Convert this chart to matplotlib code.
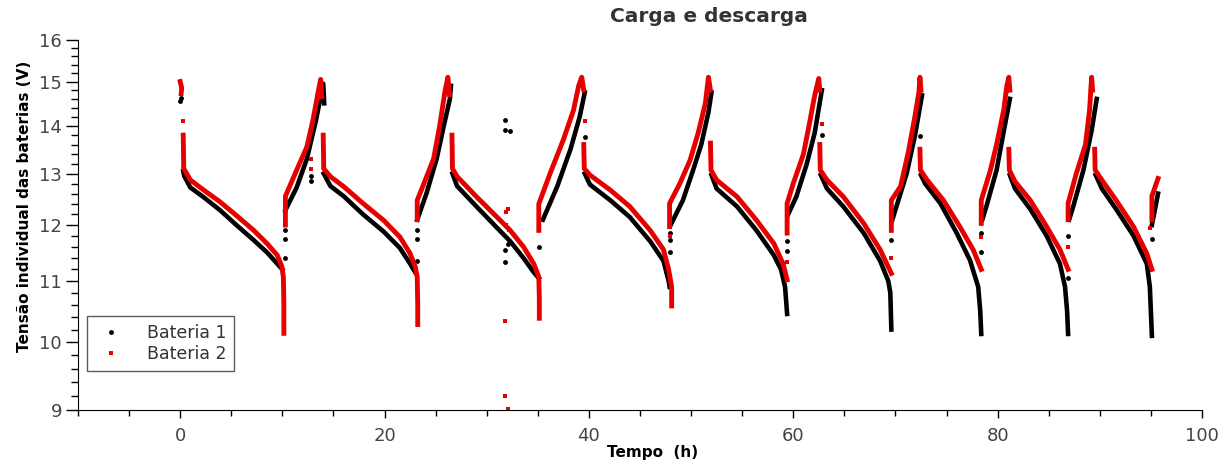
import matplotlib
matplotlib.use("Agg")
import matplotlib.pyplot as plt
from matplotlib.lines import Line2D
from matplotlib.ticker import FixedLocator, FixedFormatter, NullFormatter

nan = float("nan")

# Bateria 1 (preto): trechos de carga/descarga separados por nan
b1_tempo = [
    0.3, 0.4, 1.0, 2.3, 3.9, 5.5, 7.2, 8.5, 9.5, 10.0, nan,
    10.3, 11.4, 12.4, 13.3, 14.0, 14.1, nan,
    14.05, 14.7, 16.0, 17.9, 19.9, 21.5, 22.5, 23.0, nan,
    23.2, 24.1, 25.1, 25.8, 26.4, 26.5, nan,
    26.65, 27.1, 29.0, 31.0, 32.3, 33.6, 34.6, 35.1, nan,
    35.5, 36.9, 38.2, 39.1, 39.6, nan,
    39.6, 40.1, 42.1, 44.0, 46.0, 47.3, 47.8, 47.9, nan,
    48.0, 49.2, 50.2, 51.0, 51.7, 52.0, nan,
    52.0, 52.5, 54.5, 56.4, 58.1, 58.8, 59.2, 59.4, nan,
    59.5, 60.3, 61.3, 62.1, 62.8, nan,
    62.7, 63.3, 64.9, 66.9, 68.5, 69.3, 69.5, 69.6, nan,
    69.7, 70.1, 71.1, 71.9, 72.6, nan,
    72.5, 72.9, 74.4, 76.0, 77.3, 78.1, 78.3, 78.4, nan,
    78.5, 78.9, 79.9, 80.7, 81.2, nan,
    81.2, 81.7, 83.2, 84.8, 86.1, 86.6, 86.8, 86.9, nan,
    87.0, 87.4, 88.4, 89.2, 89.7, nan,
    89.6, 90.2, 91.6, 93.3, 94.6, 94.9, 95.0, 95.1, nan,
    95.1, 95.7,
]
b1_tensao = [
    13.05, 12.95, 12.72, 12.53, 12.28, 12.0, 11.72, 11.5, 11.3, 11.2, nan,
    12.28, 12.72, 13.3, 14.13, 14.95, 14.5, nan,
    13.0, 12.75, 12.55, 12.2, 11.88, 11.58, 11.3, 11.15, nan,
    12.1, 12.6, 13.3, 14.0, 14.6, 14.9, nan,
    13.0, 12.75, 12.35, 11.95, 11.7, 11.4, 11.15, 11.05, nan,
    12.1, 12.74, 13.5, 14.2, 14.75, nan,
    13.0, 12.78, 12.47, 12.15, 11.7, 11.35, 11.0, 10.9, nan,
    12.0, 12.47, 13.07, 13.6, 14.3, 14.75, nan,
    12.97, 12.7, 12.35, 11.9, 11.45, 11.2, 10.9, 10.45, nan,
    12.2, 12.54, 13.18, 13.85, 14.8, nan,
    12.97, 12.7, 12.35, 11.85, 11.35, 11.0, 10.8, 10.2, nan,
    12.1, 12.35, 13.0, 13.78, 14.68, nan,
    12.97, 12.8, 12.41, 11.85, 11.36, 10.9, 10.5, 10.13, nan,
    12.1, 12.35, 13.07, 14.0, 14.6, nan,
    12.97, 12.7, 12.3, 11.8, 11.3, 10.9, 10.5, 10.13, nan,
    12.1, 12.35, 13.07, 13.9, 14.6, nan,
    12.97, 12.7, 12.3, 11.8, 11.3, 10.9, 10.5, 10.1, nan,
    12.0, 12.6,
]
b1_pontos_t = [0.0, 0.05, 10.3, 10.3, 10.3, 12.8, 12.8, 23.2, 23.2, 23.2,
               31.8, 31.8, 32.3, 31.8, 31.8, 32.1, 35.1, 39.6, 47.9, 47.9,
               47.9, 59.4, 59.4, 62.8, 69.6, 72.4, 78.4, 78.4, 86.9, 86.9,
               95.1]
b1_pontos_v = [14.55, 14.62, 11.4, 11.9, 11.75, 12.85, 12.95, 11.35, 11.9, 11.75,
               14.13, 13.9, 13.88, 11.55, 11.33, 11.65, 11.6, 13.75, 11.85, 11.72,
               11.5, 11.7, 11.52, 13.8, 11.72, 13.78, 11.85, 11.5, 11.8, 11.05,
               11.75]

# Bateria 2 (vermelho)
b2_tempo = [
    0.0, 0.15, 0.1, nan,
    0.3, 0.35, 1.0, 2.3, 3.9, 5.5, 7.2, 8.5, 9.5, 9.95, 10.1, 10.15, 10.15, nan,
    10.3, 10.3, 11.4, 12.4, 13.0, 13.5, 13.75, 13.85, nan,
    14.0, 14.05, 14.7, 16.0, 17.9, 19.9, 21.5, 22.5, 23.0, 23.2, 23.25, 23.25, nan,
    23.2, 23.2, 23.8, 24.8, 25.4, 25.9, 26.2, 26.35, nan,
    26.6, 26.65, 27.1, 29.0, 31.0, 32.3, 33.6, 34.6, 35.1, 35.15, 35.15, nan,
    35.1, 35.1, 36.2, 37.5, 38.5, 39.0, 39.3, 39.5, nan,
    39.5, 39.55, 40.1, 42.1, 44.0, 46.0, 47.3, 47.8, 48.1, 48.1, nan,
    47.9, 47.9, 48.9, 49.9, 50.7, 51.4, 51.7, 51.9, nan,
    51.9, 51.95, 52.5, 54.5, 56.4, 58.1, 59.0, 59.4, nan,
    59.4, 59.4, 60.0, 61.0, 61.6, 62.1, 62.5, 62.6, nan,
    62.6, 62.65, 63.3, 64.9, 66.9, 68.5, 69.6, nan,
    69.6, 69.6, 70.5, 71.3, 71.9, 72.3, 72.4, 72.5, nan,
    72.4, 72.45, 73.1, 74.7, 76.3, 77.6, 78.4, nan,
    78.4, 78.4, 79.3, 79.9, 80.6, 80.9, 81.1, 81.2, nan,
    81.1, 81.15, 81.7, 83.2, 84.8, 86.1, 86.9, nan,
    86.9, 86.9, 87.7, 88.6, 89.0, 89.2, 89.3, nan,
    89.5, 89.55, 90.2, 91.6, 93.3, 94.6, 95.1, nan,
    95.1, 95.1, 95.7,
]
b2_tensao = [
    15.0, 14.85, 14.72, nan,
    13.8, 13.1, 12.87, 12.67, 12.44, 12.18, 11.9, 11.66, 11.45, 11.25, 11.07, 10.6, 10.14, nan,
    12.0, 12.55, 13.07, 13.55, 14.13, 14.75, 15.05, 14.65, nan,
    13.8, 13.1, 12.94, 12.74, 12.41, 12.09, 11.78, 11.48, 11.25, 11.07, 10.6, 10.28, nan,
    12.1, 12.47, 12.77, 13.3, 14.0, 14.75, 15.1, 14.7, nan,
    13.8, 13.1, 12.94, 12.54, 12.15, 11.9, 11.6, 11.3, 11.07, 10.7, 10.38, nan,
    11.9, 12.4, 13.0, 13.7, 14.35, 14.9, 15.1, 14.8, nan,
    13.6, 13.1, 12.97, 12.67, 12.35, 11.9, 11.55, 11.2, 10.9, 10.58, nan,
    11.97, 12.41, 12.8, 13.27, 13.85, 14.5, 15.1, 14.8, nan,
    13.63, 13.07, 12.87, 12.54, 12.09, 11.66, 11.3, 11.02, nan,
    11.85, 12.41, 12.8, 13.4, 14.07, 14.68, 15.07, 14.8, nan,
    13.6, 13.07, 12.87, 12.54, 12.03, 11.55, 11.13, nan,
    11.9, 12.47, 12.74, 13.48, 14.2, 14.75, 15.1, 14.8, nan,
    13.5, 13.07, 12.87, 12.47, 11.97, 11.55, 11.2, nan,
    12.03, 12.47, 13.07, 13.6, 14.35, 14.9, 15.1, 14.8, nan,
    13.5, 13.07, 12.84, 12.47, 11.97, 11.55, 11.2, nan,
    12.1, 12.41, 13.0, 13.6, 14.35, 15.1, 14.8, nan,
    13.5, 13.07, 12.87, 12.47, 11.97, 11.48, 11.2, nan,
    12.1, 12.55, 12.9,
]
b2_pontos_t = [0.3, 12.8, 12.8, 31.9, 32.1, 31.9, 32.2, 31.8, 31.8, 32.1,
               39.6, 47.9, 59.4, 62.8, 69.6, 78.4, 86.9, 94.9]
b2_pontos_v = [14.1, 13.3, 13.1, 12.25, 12.3, 12.0, 11.9, 10.33, 9.2, 9.02,
               14.1, 11.8, 11.33, 14.05, 11.4, 11.78, 11.6, 11.95]

cor1 = "black"
cor2 = "#e60000"

fig = plt.figure(figsize=(12.28, 4.61), dpi=100)
ax = fig.add_axes([0.0635, 0.1106, 0.9153, 0.8026])

ax.plot(b1_tempo, b1_tensao, color=cor1, lw=3.3)
ax.plot(b1_pontos_t, b1_pontos_v, "o", color=cor1, ms=3.5, mew=0)
ax.plot(b2_tempo, b2_tensao, color=cor2, lw=3.5)
ax.plot(b2_pontos_t, b2_pontos_v, "s", color=cor2, ms=3.5, mew=0)

ax.set_yscale("log")
ax.set_xlim(-10, 100)
ax.set_ylim(9, 16)

y_major = [9, 10, 11, 12, 13, 14, 15, 16]
y_minor = [v / 5 for v in range(45, 81) if v % 5 != 0]
ax.yaxis.set_major_locator(FixedLocator(y_major))
ax.yaxis.set_major_formatter(FixedFormatter([str(v) for v in y_major]))
ax.yaxis.set_minor_locator(FixedLocator(y_minor))
ax.yaxis.set_minor_formatter(NullFormatter())
ax.set_xticks([0, 20, 40, 60, 80, 100])
ax.set_xticks(range(-10, 101, 5), minor=True)

for s in ["top", "right"]:
    ax.spines[s].set_visible(False)
ax.tick_params(which="both", width=1, labelsize=13, labelcolor="#444444")
ax.tick_params(axis="y", which="major", length=8.5, pad=3)
ax.tick_params(axis="y", which="minor", length=5)
ax.tick_params(axis="x", which="major", length=6, pad=6)
ax.tick_params(axis="x", which="minor", length=4)

ax.set_ylabel("Tensão individual das baterias (V)", fontsize=11, fontweight="bold")
ax.yaxis.set_label_coords(-0.041, 0.55)
ax.set_xlabel("Tempo  (h)", fontsize=11, fontweight="bold")
ax.xaxis.set_label_coords(0.511, -0.095)
ax.set_title("Carga e descarga", fontsize=14.5, fontweight="bold", color="#333333",
             x=0.561, y=1.0, pad=13)

handles = [
    Line2D([], [], ls="", marker="o", color=cor1, ms=3.5, mew=0),
    Line2D([], [], ls="", marker="s", color=cor2, ms=3.5, mew=0),
]
leg = ax.legend(handles, ["Bateria 1", "Bateria 2"], loc="lower left",
                bbox_to_anchor=(0.008, 0.105), borderaxespad=0, fontsize=12.5,
                frameon=True, fancybox=False, edgecolor="#333333",
                handlelength=1.9, handletextpad=1.1, borderpad=0.45,
                labelspacing=0.2)
leg.get_frame().set_linewidth(1)
for t in leg.get_texts():
    t.set_color("#333333")

fig.savefig("out.png", dpi=100)
